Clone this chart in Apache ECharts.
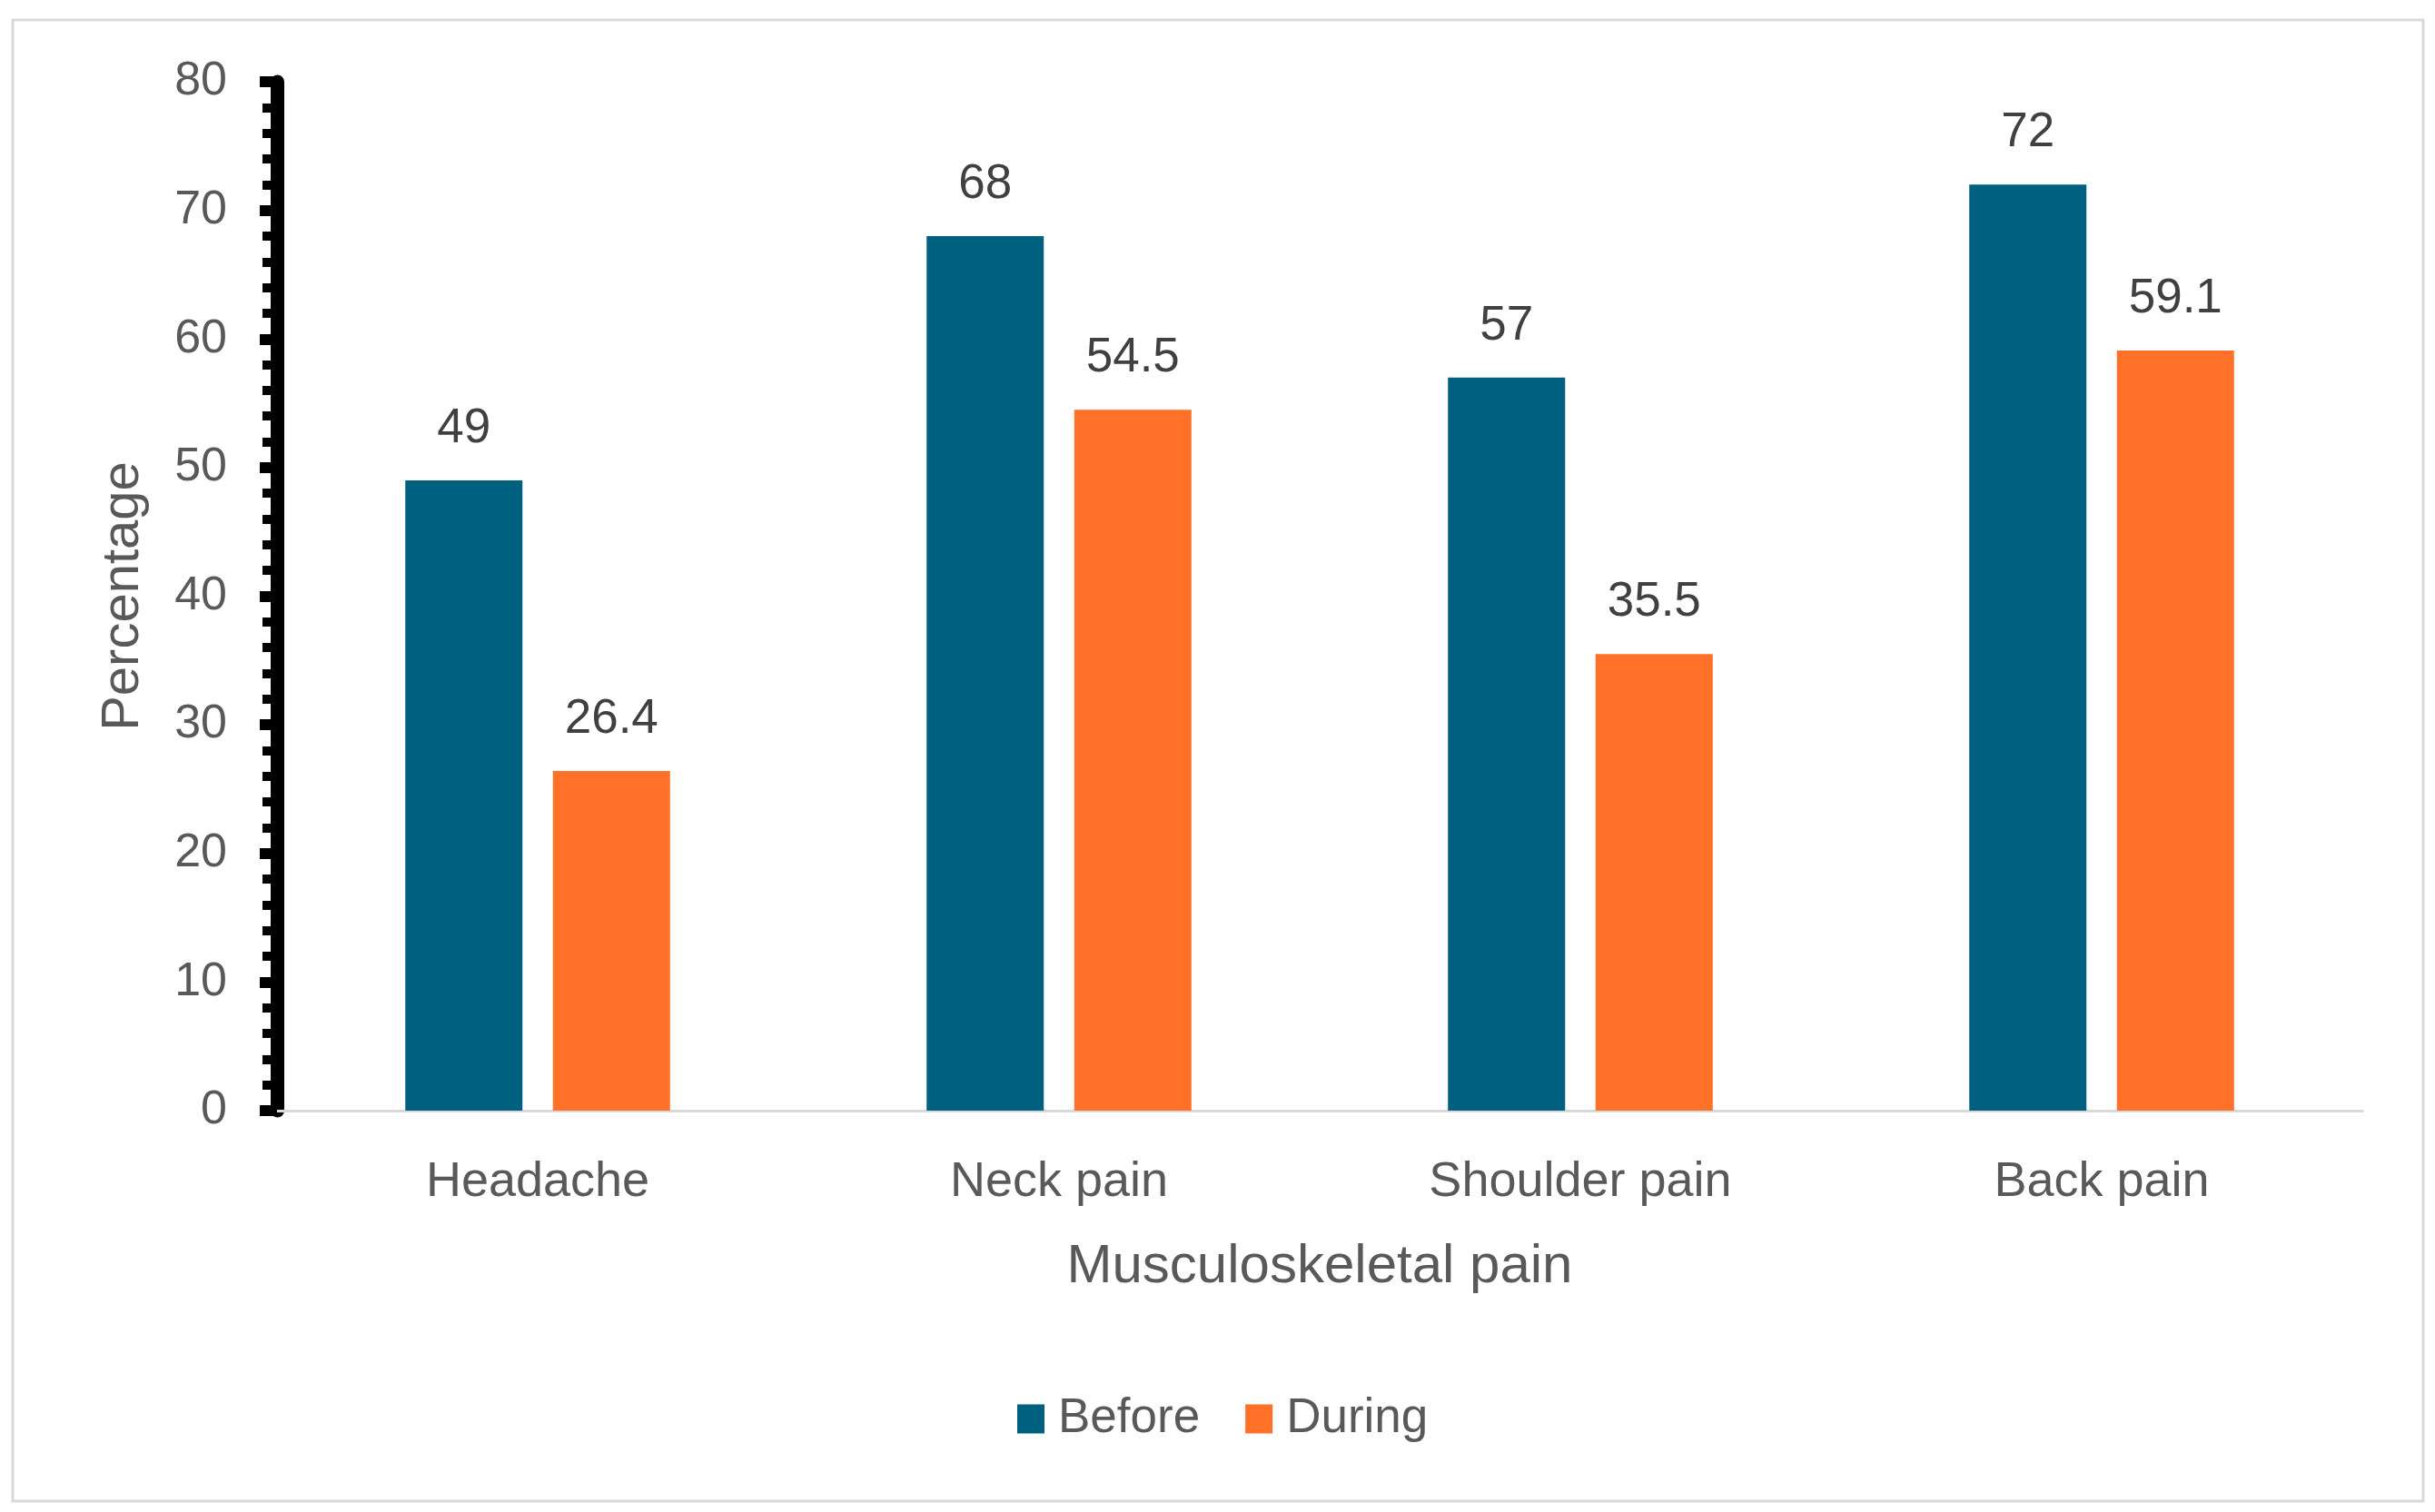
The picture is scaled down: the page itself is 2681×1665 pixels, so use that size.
<!DOCTYPE html>
<html>
<head>
<meta charset="utf-8">
<script src="https://cdn.jsdelivr.net/npm/echarts@6/dist/echarts.min.js"></script>
<style>
html,body{margin:0;padding:0;background:#fff;}
#chart{width:2681px;height:1665px;}
</style>
</head>
<body>
<div id="chart"></div>
<script>
const categories = ['Headache', 'Neck pain', 'Shoulder pain', 'Back pain'];
const seriesNames = ['Before', 'During'];
const beforeValues = [49, 68, 57, 72];
const duringValues = [26.4, 54.5, 35.5, 59.1];
const yTicks = [0, 10, 20, 30, 40, 50, 60, 70, 80];
const xTitle = 'Musculoskeletal pain';
const yTitle = 'Percentage';

const FONT = 'Liberation Sans, Arial, sans-serif';
const GREY = '#595959';
const chart = echarts.init(document.getElementById('chart'), null, {renderer: 'canvas'});

function barSeries(name, data, color) {
  return {
    name: name,
    type: 'bar',
    data: data,
    barWidth: 129,
    barGap: '26%',
    itemStyle: {color: color},
    label: {
      show: true,
      position: 'top',
      distance: 30,
      color: '#404040',
      fontSize: 53,
      fontFamily: FONT
    }
  };
}

chart.setOption({
  backgroundColor: '#ffffff',
  animation: false,
  graphic: [{
    type: 'rect',
    shape: {x: 14, y: 22, width: 2654, height: 1631},
    style: {fill: 'none', stroke: '#d9d9d9', lineWidth: 3},
    z: 0
  }],
  legend: {
    data: seriesNames,
    left: 1115,
    top: 1531,
    itemWidth: 30,
    itemHeight: 32,
    itemGap: 50,
    icon: 'rect',
    textStyle: {color: GREY, fontSize: 53, fontFamily: FONT, padding: [0, 0, 0, 10]}
  },
  grid: {left: 305, right: 80, top: 90, bottom: 442, containLabel: false},
  xAxis: {
    type: 'category',
    data: categories,
    name: xTitle,
    nameLocation: 'middle',
    nameGap: 142,
    nameTextStyle: {color: GREY, fontSize: 60, fontFamily: FONT},
    axisLine: {lineStyle: {color: '#d9d9d9', width: 3}},
    axisTick: {show: false},
    axisLabel: {color: GREY, fontSize: 54, fontFamily: FONT, margin: 52}
  },
  yAxis: {
    type: 'value',
    min: yTicks[0],
    max: yTicks[yTicks.length - 1],
    interval: yTicks[1] - yTicks[0],
    name: yTitle,
    nameLocation: 'middle',
    nameGap: 140,
    nameRotate: 90,
    nameTextStyle: {color: GREY, fontSize: 58, fontFamily: FONT},
    axisLine: {show: true, lineStyle: {color: '#000', width: 15}},
    axisTick: {show: true, length: 19, lineStyle: {color: '#000', width: 12}},
    minorTick: {show: true, splitNumber: 5, length: 16, lineStyle: {color: '#000', width: 10}},
    splitLine: {show: false},
    axisLabel: {color: GREY, fontSize: 52, fontFamily: FONT, margin: 55, padding: [6, 0, 0, 0]}
  },
  series: [
    barSeries(seriesNames[0], beforeValues, '#00607F'),
    barSeries(seriesNames[1], duringValues, '#FF7129')
  ]
});
</script>
</body>
</html>
